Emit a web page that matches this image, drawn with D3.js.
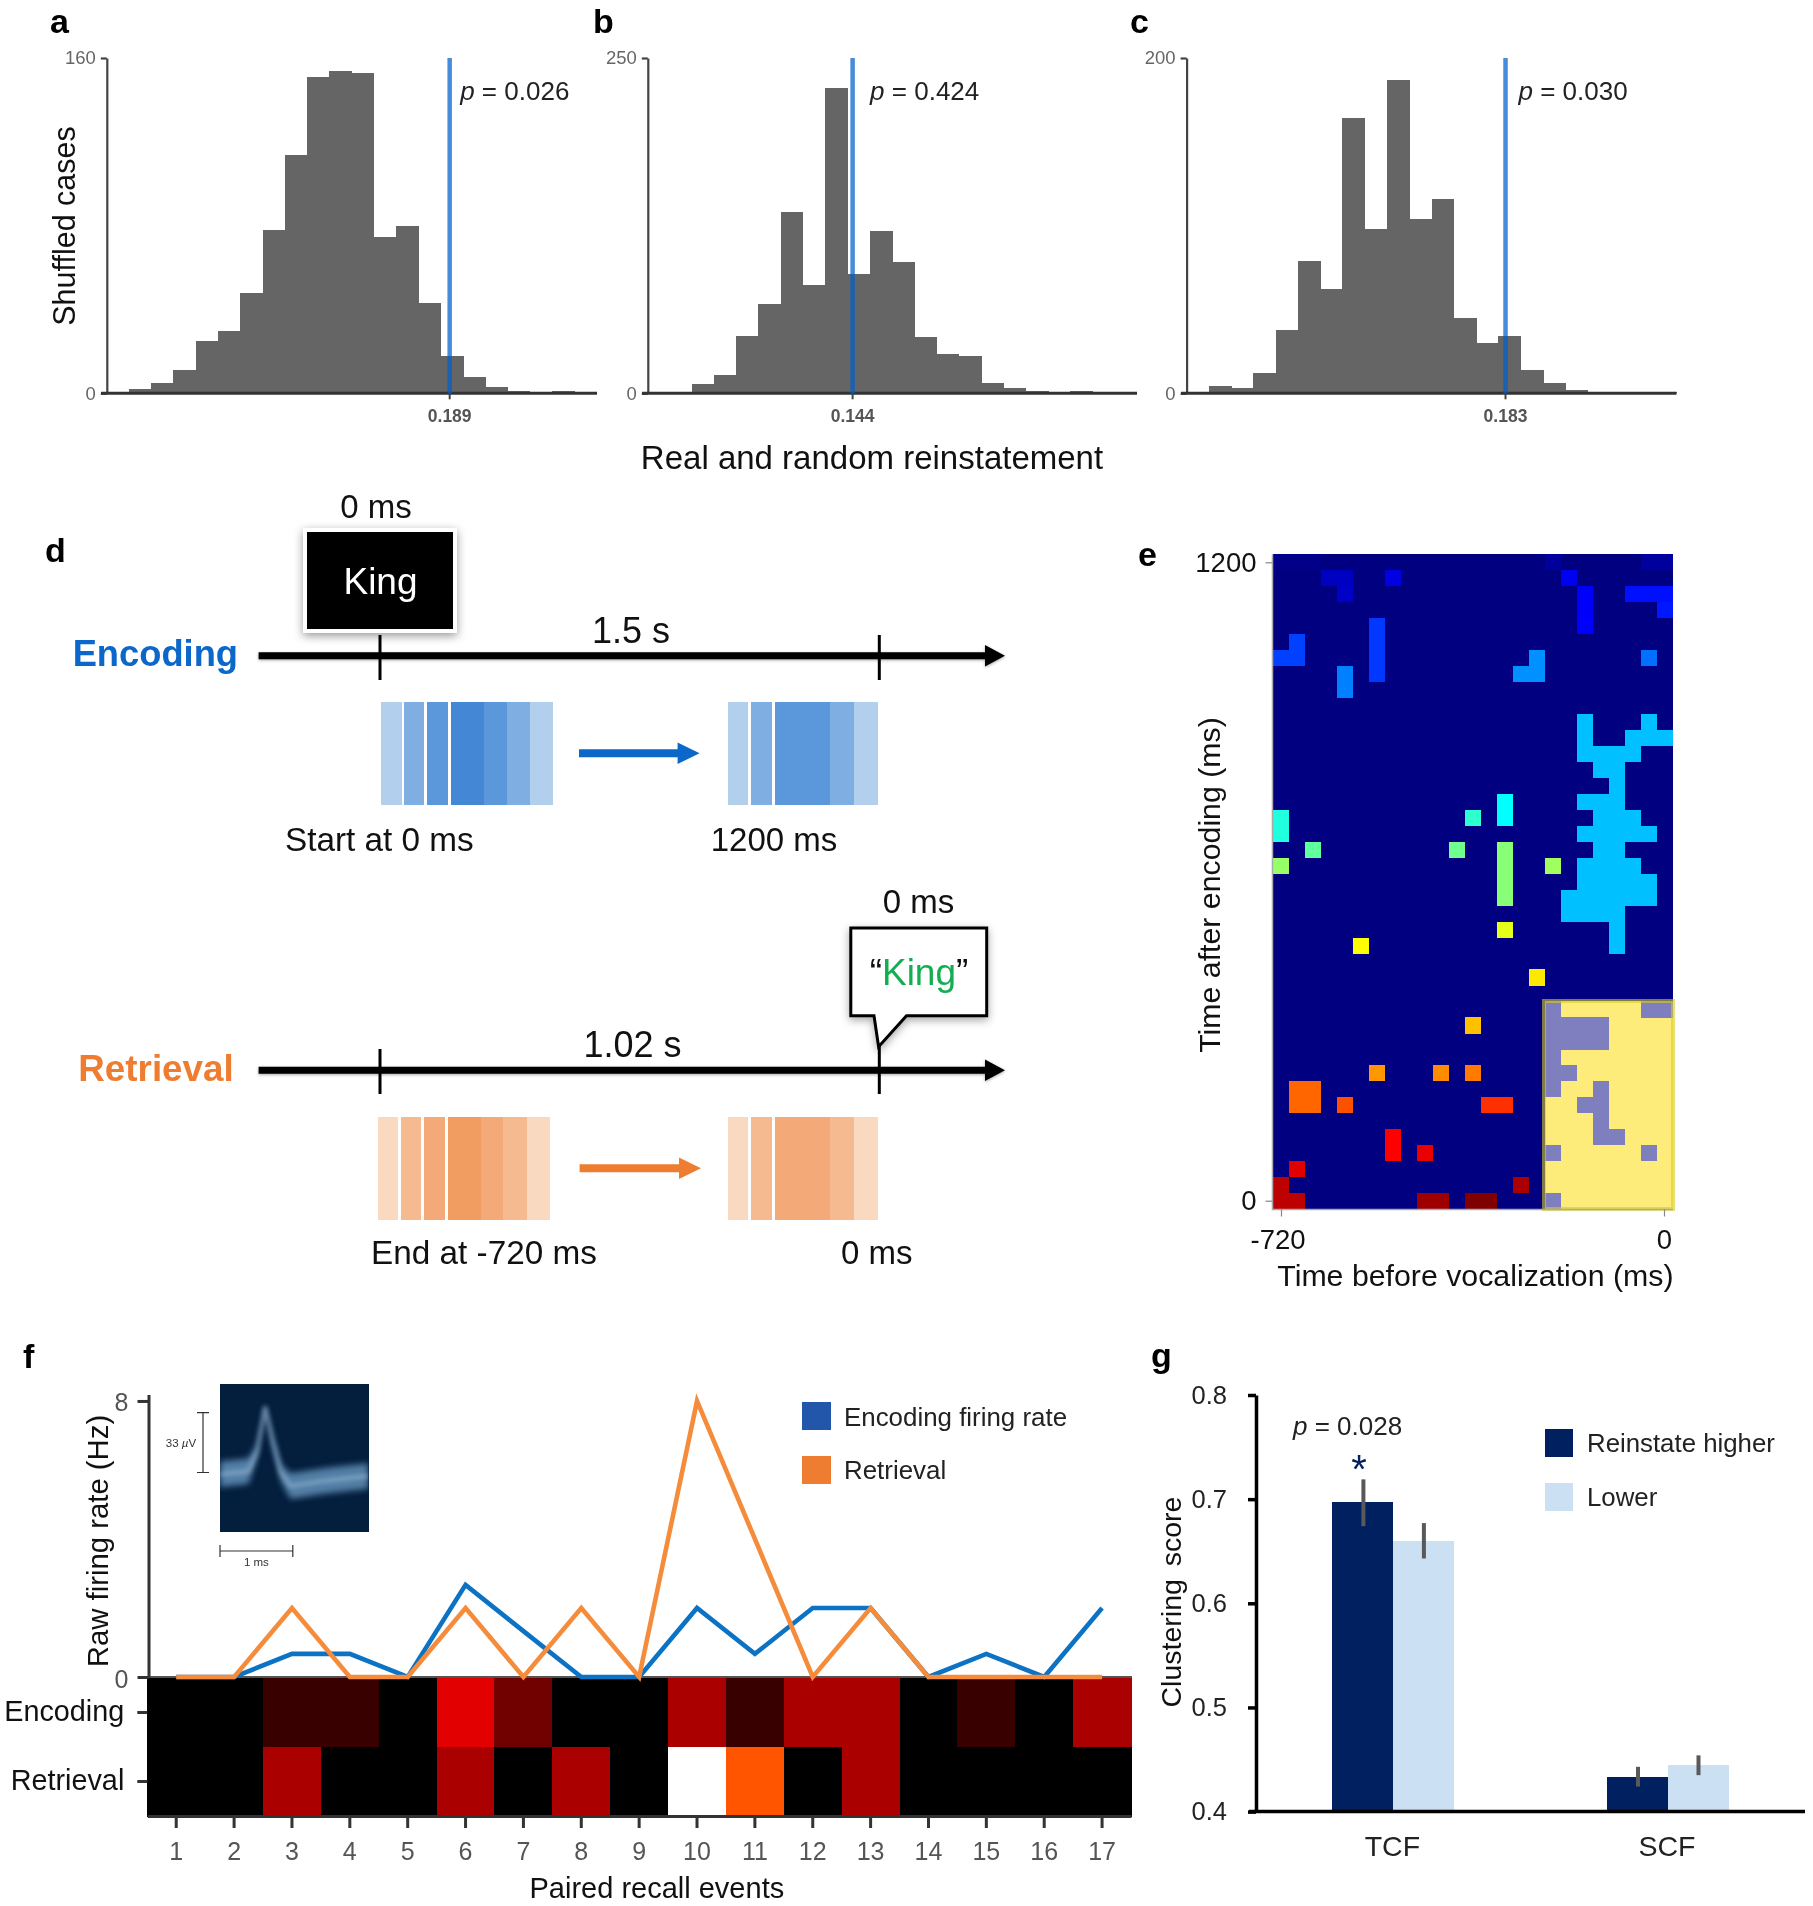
<!DOCTYPE html>
<html><head><meta charset="utf-8">
<script src="https://cdn.jsdelivr.net/npm/d3@7"></script>
<style>
html,body{margin:0;padding:0;background:#fff}
svg{display:block;font-family:"Liberation Sans",Arial,sans-serif;filter:blur(0.5px)}
rect{shape-rendering:crispEdges}
</style></head><body><div id="chart"></div>
<script>
// ---------- DATA ----------
const histA = [1.9,4.8,11,24.8,29.9,48.1,78,113.9,150.9,153.8,153,74.8,79.9,42.9,18,7.9,3,1,0.3,1];
const histB = [0.7,6.7,13.9,42.7,66.8,135,81,228,89,121,97.6,41.7,29,28,7.7,3.7,2,0.5,2,0.7];
const histC = [4.2,3,11.9,38,79,62,164,98,187,104,116,45,30,34,14,6,2,0.6,1,1,0.6];
const histMax = [160,250,200];
const histObservedBin = [14.42,8.25,13.34];
const histObservedLabel = ["0.189","0.144","0.183"];
const histP = ["0.026","0.424","0.030"];

// panel e: [rowFromTop, firstCol, lastCol, jet value 0..1]
const eCols = 25, eRows = 41;
const eCells = [
 [0,0,2,.008],[0,17,17,.026],[0,23,24,.03],
 [1,3,4,.063],[1,7,7,.094],[1,18,18,.11],
 [2,4,4,.07],[2,19,19,.12],[2,22,24,.141],
 [3,19,19,.12],[3,24,24,.149],
 [4,6,6,.18],[4,19,19,.125],
 [5,1,1,.188],[5,6,6,.18],
 [6,0,1,.188],[6,6,6,.18],[6,16,16,.266],[6,23,23,.235],
 [7,4,4,.25],[7,6,6,.18],[7,15,16,.266],
 [8,4,4,.25],
 [10,19,19,.313],[10,23,23,.313],
 [11,19,19,.313],[11,22,24,.313],
 [12,19,22,.313],
 [13,20,21,.313],
 [14,21,21,.313],
 [15,19,21,.313],[15,14,14,.375],
 [16,20,22,.313],[16,0,0,.406],[16,12,12,.42],[16,14,14,.375],
 [17,19,23,.313],[17,0,0,.406],
 [18,20,21,.313],[18,2,2,.47],[18,11,11,.485],[18,14,14,.508],
 [19,19,22,.313],[19,0,0,.524],[19,14,14,.508],[19,17,17,.532],
 [20,19,23,.313],[20,14,14,.508],
 [21,18,23,.313],[21,14,14,.508],
 [22,18,21,.313],
 [23,21,21,.313],[23,14,14,.60],
 [24,21,21,.313],[24,5,5,.625],
 [26,16,16,.648],
 [29,12,12,.687],
 [32,6,6,.726],[32,10,10,.738],[32,12,12,.754],
 [33,1,2,.775],
 [34,1,2,.775],[34,4,4,.797],[34,13,14,.828],
 [36,7,7,.875],
 [37,7,7,.875],[37,9,9,.895],
 [38,1,1,.905],
 [39,0,0,.94],[39,15,15,.96],
 [40,0,1,.94],[40,9,10,.97],[40,12,13,1]
];
const eBox = {firstRow:28,lastRow:40,firstCol:17,lastCol:24};
const eBoxBelow = [
 [28,17,17],[28,23,24],[29,17,20],[30,17,20],[31,17,17],[32,17,18],[33,17,17],[33,20,20],
 [34,19,20],[35,20,20],[36,20,21],[37,17,17],[37,23,23],[40,17,17]
];

// panel f
const events = d3.range(1,18);
const encodingRate  = [0,0,0.67,0.67,0,2.67,1.33,0,0,2,0.67,2,2,0,0.67,0,2];
const retrievalRate = [0,0,2,0,0,2,0,2,0,8,4,0,2,0,0,0,0];
const waveTime = [0,.39,.51,.62,.72,.84,.97,1.45,2.04];
const waveVolt = [-.5,1.1,12.2,36.5,18.3,.1,-7,-4,-1.5];
const waveSpread = [7,7,3.6,1.6,3,4.8,7,7,7];

// panel g
const gGroups = ["TCF","SCF"];
const gHigher = [0.697,0.433];
const gLower  = [0.660,0.445];
const gHigherErr = [[0.674,0.719],[0.424,0.443]];
const gLowerErr  = [[0.643,0.677],[0.435,0.454]];

// ---------- SETUP ----------
const W=1813,H=1906;
const svg=d3.select("#chart").append("svg").attr("width",W).attr("height",H).attr("viewBox",`0 0 ${W} ${H}`);
const defs=svg.append("defs");
const softFilter=(id,sd)=>defs.append("filter").attr("id",id).attr("x","-20%").attr("y","-30%").attr("width","140%").attr("height","160%")
  .append("feGaussianBlur").attr("stdDeviation",sd);
softFilter("soft",3);softFilter("soft2",2);
const txt=(x,y,s,o={})=>{
  const t=svg.append("text").attr("x",x).attr("y",y).text(s)
    .attr("font-size",o.size||30).attr("fill",o.fill||"#111")
    .attr("text-anchor",o.anchor||"start").attr("font-weight",o.weight||"normal");
  if(o.rotate) t.attr("transform",`rotate(-90 ${x} ${y})`);
  if(o.ws) t.attr("word-spacing",o.ws);
  return t;
};
const style=(g,o)=>{
  g.selectAll(".domain").attr("stroke",o.domain||o.color).attr("stroke-width",o.width);
  g.selectAll(".tick line").attr("stroke",o.color).attr("stroke-width",o.tickWidth||o.width);
  g.selectAll(".tick text").attr("fill",o.text).attr("font-size",o.size)
    .attr("font-family",'"Liberation Sans",Arial,sans-serif').attr("font-weight",o.weight||"normal");
};
const pLabel=(x,y,val,size)=>{
  const t=svg.append("text").attr("x",x).attr("y",y).attr("font-size",size).attr("fill","#222");
  t.append("tspan").attr("font-style","italic").text("p");
  t.append("tspan").text(" = "+val);
};
// panel letters
[["a",50,33],["b",593,33],["c",1130,33],["d",45,562],["e",1138,566],["f",23,1368],["g",1151,1367]]
  .forEach(d=>txt(d[1],d[2],d[0],{size:34,weight:"bold",fill:"#000"}));

// ---------- a, b, c ----------
const histLayout=[{ax:106.8,first:128.9,end:597,left:101},{ax:647.8,first:669.3,end:1137,left:642},{ax:1186.6,first:1208.8,end:1676.5,left:1181}];
[histA,histB,histC].forEach((vals,k)=>{
  const L=histLayout[k],bw=22.28,top=58,base=393.3;
  const x=d3.scaleLinear().domain([0,vals.length]).range([L.first,L.first+vals.length*bw]);
  const y=d3.scaleLinear().domain([0,histMax[k]]).range([base,top]);
  svg.append("g").selectAll("rect").data(vals).join("rect")
    .attr("x",(d,i)=>x(i)).attr("y",d=>y(d)).attr("width",x(1)-x(0)+.5).attr("height",d=>base-y(d)).attr("fill","#656565");
  const ya=svg.append("g").attr("transform",`translate(${L.ax},0)`)
    .call(d3.axisLeft(y).tickValues([0,histMax[k]]).tickSize(6).tickSizeOuter(0).tickPadding(5));
  style(ya,{color:"#444",width:2.2,text:"#666",size:18.5});
  svg.append("line").attr("x1",L.left).attr("x2",L.end).attr("y1",base).attr("y2",base).attr("stroke","#333").attr("stroke-width",3);
  const xa=svg.append("g").attr("transform",`translate(0,${base})`)
    .call(d3.axisBottom(x).tickValues([histObservedBin[k]]).tickFormat(()=>histObservedLabel[k]).tickSize(6).tickSizeOuter(0).tickPadding(10));
  xa.select(".domain").remove();
  style(xa,{color:"#444",width:2,text:"#555",size:17.5,weight:"bold"});
  xa.attr("transform",`translate(-1,${base})`);
  const ox=x(histObservedBin[k])-.5;
  svg.append("line").attr("x1",ox).attr("x2",ox).attr("y1",top).attr("y2",base)
    .attr("stroke","rgb(0,96,205)").attr("stroke-opacity",.72).attr("stroke-width",4.5);
  pLabel(ox+ (k==1?17.5:k==0?10.5:13),99.5,histP[k],26);
});
txt(75,226,"Shuffled cases",{size:30.5,anchor:"middle",rotate:true});
txt(872,469,"Real and random reinstatement",{size:33,anchor:"middle"});

// ---------- d ----------
const blue="#0b67c9",orange="#ee7d31";
const blues=["#b3cfee","#7fafe2","#5b98db","#4387d5","#5b98db","#7fafe2","#b3cfee"];
const oranges=["#fad9c1","#f6ba90","#f3aa78","#f19c61","#f3aa78","#f6ba90","#fad9c1"];
const blues2=[blues[0],blues[1],blues[2],blues[5],blues[6]];
const oranges2=[oranges[0],oranges[1],oranges[2],oranges[5],oranges[6]];
const stripeL=[[0,19.9],[22.5,42.4],[45.7,66.3],[69.7,102.7],[102.7,125.3],[125.3,148.5],[148.5,171.7]];
const stripeR=[[0,20.5],[23.8,44.5],[47,102.5],[102.5,126.5],[126.5,150.5]];
function stripes(x0,y0,h,spans,cols){
  svg.append("g").selectAll("rect").data(spans).join("rect")
    .attr("x",d=>x0+d[0]).attr("y",y0).attr("width",d=>d[1]-d[0]+.3).attr("height",h).attr("fill",(d,i)=>cols[i]);
}
function hArrow(x1,x2,y,t,hw,hl,c,shadow){
  const p=`M${x1},${y-t/2}L${x2-hl},${y-t/2}L${x2-hl},${y-hw}L${x2},${y}L${x2-hl},${y+hw}L${x2-hl},${y+t/2}L${x1},${y+t/2}Z`;
  const e=svg.append("path").attr("d",p).attr("fill",c);
  if(shadow) e.style("filter","drop-shadow(0 1px 1.5px rgba(0,0,0,.35))");
}
function vTick(x,y1,y2){svg.append("line").attr("x1",x).attr("x2",x).attr("y1",y1).attr("y2",y2).attr("stroke","#000").attr("stroke-width",3);}

// King card
svg.append("rect").attr("x",305).attr("y",530).attr("width",150).attr("height",101).attr("fill","#000")
  .attr("stroke","#fff").attr("stroke-width",4).style("filter","drop-shadow(0 3px 5px rgba(0,0,0,.4))");
txt(380.5,594,"King",{size:37,fill:"#fff",anchor:"middle"});
txt(376,517.5,"0 ms",{size:33,anchor:"middle"});
txt(238,666,"Encoding",{size:36.3,weight:"bold",fill:blue,anchor:"end"});
hArrow(258.6,1005,655.7,7,10.7,20,"#000",true);
vTick(380,635,680);vTick(879.3,635,680);
txt(631,642.5,"1.5 s",{size:36,anchor:"middle"});
stripes(381.3,702,103,stripeL,blues);
stripes(727.5,702,103,stripeR,blues2);
hArrow(579,699.6,753.3,8,10.7,22,blue);
txt(379.3,850.5,"Start at 0 ms",{size:33.3,anchor:"middle"});
txt(774,850.5,"1200 ms",{size:33,anchor:"middle"});

txt(156,1080.5,"Retrieval",{size:36.8,weight:"bold",fill:orange,anchor:"middle"});
hArrow(258.6,1005,1070.3,7,10.7,20,"#000",true);
vTick(380,1049,1094);vTick(879.3,1046,1094);
txt(632.5,1056.5,"1.02 s",{size:36,anchor:"middle"});
stripes(378,1117,103,stripeL,oranges);
stripes(727.5,1117,103,stripeR,oranges2);
hArrow(579.6,701,1168.3,8,10.7,22,orange);
txt(484,1263.5,"End at -720 ms",{size:33.3,anchor:"middle"});
txt(876.7,1263.5,"0 ms",{size:33,anchor:"middle"});
txt(918.4,913,"0 ms",{size:33,anchor:"middle"});
svg.append("path").attr("d","M850.8,928H986.7V1015.7H906.5L878.6,1046.7L874,1015.7H850.8Z")
  .attr("fill","#fff").attr("stroke","#000").attr("stroke-width",3).style("filter","drop-shadow(0 3px 4px rgba(0,0,0,.35))");
const kq=svg.append("text").attr("x",919).attr("y",985).attr("text-anchor","middle").attr("font-size",37);
kq.append("tspan").text("“").attr("fill","#111");
kq.append("tspan").text("King").attr("fill","#14ae52");
kq.append("tspan").text("”").attr("fill","#111");

// ---------- e ----------
const jet=d3.scaleLinear().domain([0,.125,.375,.625,.875,1])
  .range(["#000080","#0000ff","#00ffff","#ffff00","#ff0000","#800000"]);
const ex=d3.scaleBand().domain(d3.range(eCols)).range([1273,1672.5]);
const ey=d3.scaleBand().domain(d3.range(eRows)).range([554.3,1209]);
svg.append("rect").attr("x",1273).attr("y",554.3).attr("width",399.5).attr("height",654.7).attr("fill",jet(0));
svg.append("g").selectAll("rect").data(eCells).join("rect")
  .attr("x",d=>ex(d[1])).attr("y",d=>ey(d[0])).attr("width",d=>ex(d[2])+ex.bandwidth()-ex(d[1])).attr("height",ey.bandwidth()+.2)
  .attr("fill",d=>jet(d[3]));
svg.append("rect").attr("x",ex(eBox.firstCol)).attr("y",ey(eBox.firstRow)).attr("width",ex(eBox.lastCol)+ex.bandwidth()-ex(eBox.firstCol))
  .attr("height",ey(eBox.lastRow)+ey.bandwidth()-ey(eBox.firstRow)).attr("fill","#fdeb7a");
svg.append("g").selectAll("rect").data(eBoxBelow).join("rect")
  .attr("x",d=>ex(d[1])).attr("y",d=>ey(d[0])).attr("width",d=>ex(d[2])+ex.bandwidth()-ex(d[1])).attr("height",ey.bandwidth()+.2)
  .attr("fill","#7f7fbf");
svg.append("rect").attr("x",ex(eBox.firstCol)-1).attr("y",ey(eBox.firstRow)).attr("width",ex(eBox.lastCol)+ex.bandwidth()-ex(eBox.firstCol)+1)
  .attr("height",ey(eBox.lastRow)+ey.bandwidth()-ey(eBox.firstRow)).attr("fill","none")
  .attr("stroke","rgb(215,205,30)").attr("stroke-opacity",.6).attr("stroke-width",4);
svg.append("path").attr("d","M1272.5,554.3V1209.5H1673").attr("fill","none").attr("stroke","#aaa").attr("stroke-width",1.5);
const eTime=d3.scaleLinear().domain([-720,0]).range([1281,1664]);
const eEnc=d3.scaleLinear().domain([0,1200]).range([1200.7,562.3]);
const exa=svg.append("g").attr("transform","translate(0,1209.5)").call(d3.axisBottom(eTime).tickValues([-720,0]).tickFormat(String).tickSize(7).tickSizeOuter(0).tickPadding(13));
exa.select(".domain").remove();style(exa,{color:"#888",width:1.2,text:"#111",size:27.5});
exa.selectAll(".tick text").filter(d=>d<0).attr("dx",-3.5);
const eya=svg.append("g").attr("transform","translate(1272.5,0)").call(d3.axisLeft(eEnc).tickValues([0,1200]).tickFormat(String).tickSize(7).tickSizeOuter(0).tickPadding(9));
eya.select(".domain").remove();style(eya,{color:"#888",width:1.2,text:"#111",size:27.5});
txt(1673.5,1286,"Time before vocalization (ms)",{size:30.3,anchor:"end"});
txt(1220,885,"Time after encoding (ms)",{size:30.3,anchor:"middle",rotate:true});

// ---------- f ----------
const fx=d3.scaleBand().domain(events).range([147.3,1131]);
const fc=d=>fx(d)+fx.bandwidth()/2;
const fy=d3.scaleLinear().domain([0,8.19]).range([1677,1394.4]);
const hot=d3.scaleLinear().domain([0,3,6,8]).range(["#000000","#ff0000","#ffff00","#ffffff"]);
const heatRows=[["Encoding",encodingRate],["Retrieval",retrievalRate]];
const fr=d3.scaleBand().domain(heatRows.map(d=>d[0])).range([1678,1816]);
heatRows.forEach(([name,vals])=>{
  svg.append("g").selectAll("rect").data(vals).join("rect")
    .attr("x",(d,i)=>fx(events[i])).attr("y",fr(name)).attr("width",fx.bandwidth()+.6).attr("height",fr.bandwidth()+.6)
    .attr("fill",d=>hot(d));
});
svg.append("line").attr("x1",147).attr("x2",1132).attr("y1",1677).attr("y2",1677).attr("stroke","#555").attr("stroke-width",2);
const fLine=d3.line().x((d,i)=>fc(events[i])).y(d=>fy(d));
[[encodingRate,"#0b72c4"],[retrievalRate,"#f58c3c"]].forEach(([v,c])=>{
  svg.append("path").attr("d",fLine(v)).attr("fill","none").attr("stroke",c).attr("stroke-width",4.6);
});
const fxa=svg.append("g").attr("transform","translate(0,1816)").call(d3.axisBottom(fx).tickSize(12).tickSizeOuter(0).tickPadding(14));
style(fxa,{color:"#333",width:3,text:"#555",size:25});
const fya=svg.append("g").attr("transform","translate(148.5,0)").call(d3.axisLeft(fy).tickValues([0,8]).tickSize(11).tickSizeOuter(0).tickPadding(9));
style(fya,{color:"#333",width:3,text:"#555",size:25});
fya.selectAll(".tick text").attr("dy","0.4em");
const fra=svg.append("g").attr("transform","translate(147.3,0)").call(d3.axisLeft(fr).tickSize(10).tickSizeOuter(0).tickPadding(13));
fra.select(".domain").remove();
style(fra,{color:"#333",width:3,text:"#111",size:28.8});
fra.selectAll(".tick text").attr("dy","0.28em");
txt(108,1541,"Raw firing rate (Hz)",{size:29.3,anchor:"middle",rotate:true});
txt(529.5,1898,"Paired recall events",{size:29});

// inset
const wx=d3.scaleLinear().domain([0,2.04]).range([220,368.5]);
const wy=d3.scaleLinear().domain([-32,49]).range([1531.7,1384]);
const wTable=waveTime.map((t,i)=>({t,v:waveVolt[i],s:waveSpread[i]}));
svg.append("clipPath").attr("id","insetClip").append("rect").attr("x",220).attr("y",1384).attr("width",148.5).attr("height",147.7);
svg.append("rect").attr("x",220).attr("y",1384).attr("width",148.5).attr("height",147.7).attr("fill","#041e3d");
const ig=svg.append("g").attr("clip-path","url(#insetClip)");
ig.append("path").datum(wTable).attr("d",d3.area().x(d=>wx(d.t)).y0(d=>wy(d.v-d.s)).y1(d=>wy(d.v+d.s)))
  .attr("fill","#5d8ab2").attr("opacity",.9).attr("filter","url(#soft)");
ig.append("path").datum(wTable).attr("d",d3.line().x(d=>wx(d.t)).y(d=>wy(d.v)))
  .attr("fill","none").attr("stroke","#9fc0da").attr("stroke-width",4).attr("opacity",.55).attr("filter","url(#soft2)");
svg.append("path").attr("d","M197,1412.7H209M203,1412.7V1472.5M197,1472.5H209").attr("fill","none").attr("stroke","#333").attr("stroke-width",1.2);
const uv=svg.append("text").attr("x",181).attr("y",1447).attr("text-anchor","middle").attr("font-size",11.5).attr("fill","#333");
uv.append("tspan").text("33 ");uv.append("tspan").attr("font-style","italic").text("µ");uv.append("tspan").text("V");
svg.append("path").attr("d","M220,1545V1557M220,1551H292.8M292.8,1545V1557").attr("fill","none").attr("stroke","#333").attr("stroke-width",1.2);
txt(256.4,1566,"1 ms",{size:11.5,anchor:"middle",fill:"#333"});
// legend f
[["Encoding firing rate","#2156ab",1402,1426],["Retrieval",orange,1456,1479]].forEach(d=>{
  svg.append("rect").attr("x",802).attr("y",d[2]).attr("width",28.6).attr("height",28).attr("fill",d[1]);
  txt(844,d[3],d[0],{size:25.9,fill:"#222"});
});

// ---------- g ----------
const gy=d3.scaleLinear().domain([.4,.8]).range([1811.6,1395]);
const gx=d3.scalePoint().domain(gGroups).range([1393.4,1668]);
const gbw=61,dark="#00205f",light="#cbe0f2";
[[gHigher,dark,-1],[gLower,light,0]].forEach(([vals,c,o])=>{
  svg.append("g").selectAll("rect").data(vals).join("rect")
    .attr("x",(d,i)=>gx(gGroups[i])+o*gbw).attr("y",d=>gy(d)).attr("width",gbw).attr("height",d=>gy(.4)-gy(d)).attr("fill",c);
});
[[gHigherErr,-30],[gLowerErr,30.5]].forEach(([errs,o])=>{
  svg.append("g").selectAll("line").data(errs).join("line")
    .attr("x1",(d,i)=>gx(gGroups[i])+o).attr("x2",(d,i)=>gx(gGroups[i])+o)
    .attr("y1",d=>gy(d[0])).attr("y2",d=>gy(d[1])).attr("stroke","#595959").attr("stroke-width",4);
});
const gya=svg.append("g").attr("transform","translate(1256,0)").call(d3.axisLeft(gy).tickValues([.4,.5,.6,.7,.8]).tickFormat(d3.format(".1f")).tickSize(8).tickSizeOuter(0).tickPadding(21));
style(gya,{color:"#000",width:3.5,text:"#222",size:25.5});
svg.append("line").attr("x1",1249).attr("x2",1805).attr("y1",gy(.4)).attr("y2",gy(.4)).attr("stroke","#000").attr("stroke-width",3.5);
gGroups.forEach(g=>txt(gx(g)-1,1856.4,g,{size:28.5,anchor:"middle",fill:"#222"}));
txt(1181,1602,"Clustering score",{size:28.5,anchor:"middle",rotate:true,ws:5});
pLabel(1293,1434.7,"0.028",26);
txt(1359,1483,"*",{size:40,anchor:"middle",fill:dark});
[["Reinstate higher",dark,1429,1452],["Lower",light,1483,1505.6]].forEach(d=>{
  svg.append("rect").attr("x",1545).attr("y",d[2]).attr("width",28).attr("height",28.2).attr("fill",d[1]);
  txt(1587,d[3],d[0],{size:25.8,fill:"#222"});
});
</script></body></html>
